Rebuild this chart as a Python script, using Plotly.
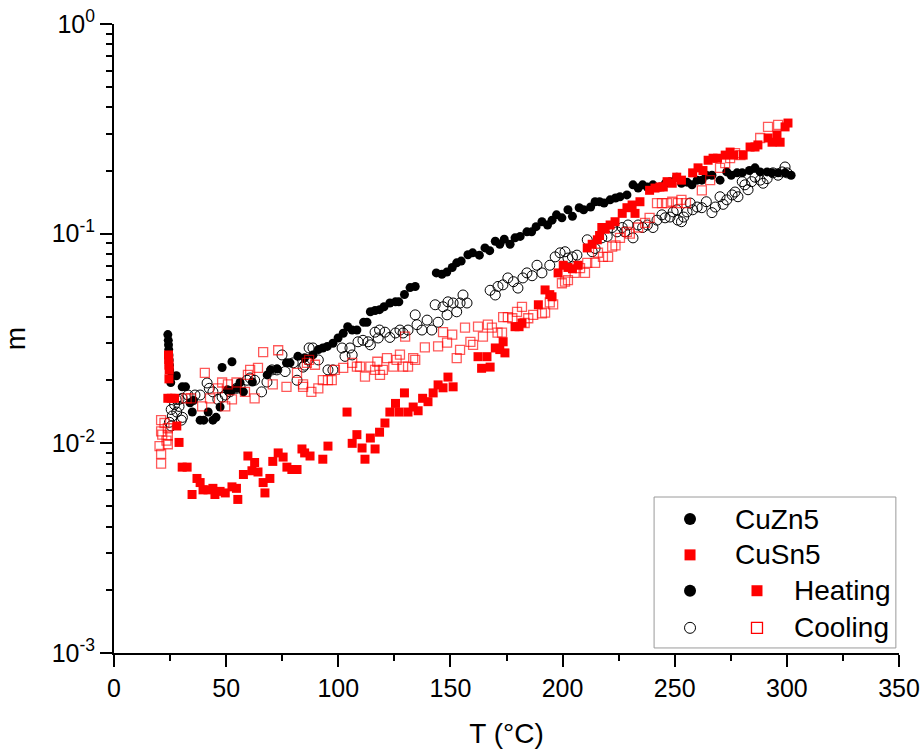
import plotly.graph_objects as go

# ---------------- data (T in °C, m) ----------------
cuzn5_heating = [
    (24.0, 0.033), (24.2, 0.031), (24.3, 0.0295), (24.4, 0.028), (24.5, 0.0264), (24.6, 0.025),
    (24.7, 0.0236), (24.8, 0.0224), (25.8, 0.021), (27.8, 0.021), (25.3, 0.0195), (30.4, 0.0186),
    (31.9, 0.0186), (33.9, 0.0156), (35.4, 0.016), (34.9, 0.0141), (38.4, 0.0129), (40.0, 0.0129),
    (42.0, 0.0141), (44.1, 0.0129), (45.5, 0.0133), (47.3, 0.0149), (48.2, 0.023), (52.6, 0.0245),
    (50.6, 0.018), (52.1, 0.0178), (54.6, 0.0183), (56.2, 0.0195), (57.7, 0.0176), (61.7, 0.0196),
    (68.3, 0.0212), (69.8, 0.0224), (72.8, 0.0226), (76.9, 0.0242), (78.5, 0.0242), (82.0, 0.026),
    (85.0, 0.0256), (88.7, 0.0264), (91.1, 0.028), (93.1, 0.0285), (95.1, 0.029), (97.6, 0.030),
    (99.9, 0.0318), (102.2, 0.0335), (104.2, 0.036), (106.2, 0.0347), (108.3, 0.0347), (111.3, 0.0378),
    (112.8, 0.0378), (114.3, 0.0424), (116.4, 0.043), (118.4, 0.0434), (120.4, 0.0448), (123.0, 0.0467),
    (125.5, 0.0473), (127.0, 0.0473), (129.5, 0.0513), (132.0, 0.0553), (134.3, 0.056), (143.7, 0.065),
    (146.2, 0.064), (148.4, 0.0656), (150.8, 0.069), (152.8, 0.0726), (154.8, 0.074), (157.8, 0.0793),
    (159.9, 0.081), (162.9, 0.079), (165.4, 0.0855), (167.5, 0.083), (170.0, 0.092), (172.0, 0.089),
    (174.0, 0.094), (176.6, 0.089), (178.8, 0.0955), (181.1, 0.097), (184.1, 0.102), (186.2, 0.102),
    (188.2, 0.108), (190.8, 0.114), (193.3, 0.11), (195.3, 0.116), (197.3, 0.123), (199.7, 0.119),
    (202.4, 0.13), (204.4, 0.121), (207.4, 0.133), (209.4, 0.13), (212.5, 0.134), (214.5, 0.142),
    (216.5, 0.142), (218.5, 0.14), (221.2, 0.145), (223.6, 0.148), (225.6, 0.15), (228.7, 0.153),
    (231.4, 0.171), (233.7, 0.165), (235.7, 0.171), (237.8, 0.167), (240.3, 0.171), (243.4, 0.167),
    (245.9, 0.174), (247.9, 0.177), (250.9, 0.186), (253.0, 0.174), (255.5, 0.176), (257.7, 0.171),
    (260.0, 0.18), (262.1, 0.18), (264.1, 0.19), (266.6, 0.19), (270.2, 0.18), (273.2, 0.197),
    (275.2, 0.19), (277.8, 0.195), (280.1, 0.195), (283.3, 0.2), (285.8, 0.206), (288.1, 0.197),
    (291.2, 0.197), (293.4, 0.195), (296.1, 0.195), (299.2, 0.195), (301.9, 0.19),
]

cuzn5_cooling = [
    (25.5, 0.0145), (26.0, 0.0135), (24.7, 0.0126), (25.5, 0.0121), (27.0, 0.0153), (27.7, 0.0162),
    (28.0, 0.0141), (29.0, 0.015), (30.0, 0.0129), (30.5, 0.0133), (29.0, 0.0162), (30.4, 0.0164),
    (33.0, 0.017), (36.1, 0.017), (38.4, 0.017), (41.5, 0.0194), (42.5, 0.0183), (44.1, 0.0176),
    (46.3, 0.0162), (48.2, 0.0166), (49.6, 0.017), (51.6, 0.0176), (54.6, 0.0183), (56.2, 0.0186),
    (59.3, 0.020), (60.7, 0.0205), (62.7, 0.020), (65.8, 0.0176), (68.2, 0.0196), (70.4, 0.0224),
    (72.6, 0.0224), (74.9, 0.0264), (76.3, 0.022), (79.9, 0.0242), (81.6, 0.020), (85.0, 0.0236),
    (84.3, 0.0231), (86.5, 0.025), (88.7, 0.0285), (91.1, 0.025), (87.0, 0.0285), (95.4, 0.0224),
    (97.6, 0.0224), (101.7, 0.0285), (103.0, 0.026), (105.2, 0.0285), (106.2, 0.0264), (108.8, 0.0305),
    (111.0, 0.031), (113.3, 0.0305), (114.3, 0.0295), (116.4, 0.0339), (118.4, 0.0347), (117.8, 0.0318),
    (120.8, 0.0339), (123.0, 0.032), (125.5, 0.0336), (127.5, 0.0347), (128.9, 0.0336), (131.1, 0.0347),
    (134.3, 0.041), (135.1, 0.0368), (137.3, 0.0347), (139.6, 0.0387), (141.7, 0.0347), (143.2, 0.0458),
    (144.5, 0.0378), (146.7, 0.0448), (148.5, 0.041), (148.9, 0.0473), (151.2, 0.0467), (152.8, 0.0424),
    (154.3, 0.0467), (155.6, 0.051), (157.4, 0.0467), (167.7, 0.0537), (170.0, 0.051), (171.2, 0.056),
    (173.4, 0.057), (175.6, 0.0615), (178.1, 0.059), (180.1, 0.055), (182.3, 0.0615), (184.1, 0.065),
    (186.4, 0.063), (188.6, 0.0707), (190.8, 0.065), (194.3, 0.0707), (196.7, 0.0775), (198.9, 0.081),
    (201.1, 0.082), (202.4, 0.0765), (204.4, 0.0775), (206.4, 0.079), (211.0, 0.0935), (213.2, 0.082),
    (214.5, 0.085), (217.5, 0.0955), (219.9, 0.097), (222.1, 0.107), (224.3, 0.102), (226.6, 0.107),
    (227.7, 0.102), (229.2, 0.11), (231.4, 0.0955), (233.7, 0.11), (235.7, 0.107), (237.8, 0.11),
    (240.3, 0.107), (242.1, 0.116), (244.3, 0.123), (245.7, 0.119), (247.9, 0.12), (249.3, 0.127),
    (250.9, 0.13), (251.4, 0.116), (253.0, 0.114), (254.0, 0.12), (255.5, 0.127), (256.9, 0.14),
    (258.0, 0.13), (260.0, 0.134), (262.1, 0.133), (264.1, 0.142), (266.6, 0.126), (268.1, 0.134),
    (270.2, 0.15), (271.6, 0.138), (273.2, 0.145), (275.6, 0.153), (276.9, 0.158), (278.2, 0.15),
    (280.1, 0.177), (281.3, 0.171), (282.7, 0.162), (284.3, 0.177), (285.8, 0.186), (288.1, 0.18),
    (289.4, 0.174), (291.2, 0.183), (293.8, 0.195), (296.1, 0.19), (297.9, 0.197), (299.2, 0.208),
    (300.1, 0.195),
]

cusn5_heating = [
    (24.3, 0.0264), (24.4, 0.025), (24.5, 0.0236), (24.6, 0.0224), (24.5, 0.0203), (24.0, 0.0164),
    (25.5, 0.0164), (27.0, 0.0164), (28.0, 0.0121), (29.0, 0.0101), (30.4, 0.0077), (32.6, 0.0077),
    (34.8, 0.0057), (37.0, 0.0068), (38.4, 0.0065), (39.7, 0.006), (41.9, 0.006), (44.1, 0.0061),
    (45.0, 0.0057), (47.3, 0.0059), (49.6, 0.0058), (52.6, 0.0062), (54.6, 0.0061), (55.2, 0.0054),
    (57.7, 0.0071), (59.7, 0.0087), (61.5, 0.0074), (62.7, 0.0081), (64.2, 0.0073), (66.5, 0.0065),
    (67.3, 0.0058), (69.5, 0.0068), (70.8, 0.0082), (73.2, 0.009), (75.4, 0.0086), (77.1, 0.0077),
    (79.3, 0.0075), (81.6, 0.0075), (83.8, 0.0094), (85.0, 0.009), (87.4, 0.0087), (93.1, 0.0084),
    (95.4, 0.0097), (103.9, 0.0141), (106.2, 0.01), (108.3, 0.011), (110.6, 0.0095), (111.9, 0.0084),
    (114.3, 0.0106), (116.4, 0.0094), (118.4, 0.0113), (120.8, 0.0125), (123.0, 0.0141), (125.5, 0.0155),
    (127.1, 0.0141), (129.5, 0.0174), (131.1, 0.0141), (133.4, 0.0149), (135.6, 0.0143), (137.6, 0.0164),
    (140.0, 0.0158), (142.3, 0.0174), (144.5, 0.019), (146.7, 0.0184), (148.9, 0.0207), (151.2, 0.0186),
    (162.3, 0.0259), (163.9, 0.0228), (166.3, 0.0259), (167.7, 0.0231), (170.0, 0.0285), (172.0, 0.028),
    (173.5, 0.0305), (174.3, 0.027), (178.8, 0.036), (180.6, 0.036), (181.9, 0.0375), (189.2, 0.0458),
    (192.2, 0.0539), (194.3, 0.0512), (195.3, 0.05), (198.0, 0.065), (200.3, 0.0707), (202.4, 0.069),
    (204.4, 0.068), (206.9, 0.0707), (211.0, 0.0855), (213.2, 0.089), (215.5, 0.0935), (216.5, 0.098),
    (217.5, 0.107), (219.0, 0.105), (221.2, 0.11), (223.4, 0.114), (226.6, 0.125), (228.7, 0.133),
    (231.0, 0.137), (232.3, 0.125), (234.5, 0.142), (238.8, 0.161), (241.2, 0.165), (243.4, 0.167),
    (244.9, 0.167), (246.6, 0.177), (248.9, 0.174), (250.9, 0.186), (253.0, 0.18), (258.0, 0.195),
    (260.4, 0.206), (262.6, 0.2), (264.9, 0.224), (267.1, 0.229), (269.1, 0.229), (272.5, 0.237),
    (274.7, 0.245), (276.2, 0.237), (280.5, 0.237), (283.6, 0.259), (285.8, 0.259), (287.1, 0.265),
    (291.6, 0.286), (293.4, 0.273), (295.6, 0.296), (297.0, 0.273), (299.2, 0.323), (300.5, 0.337),
]

cusn5_cooling = [
    (21.0, 0.0129), (21.0, 0.0114), (21.5, 0.011), (20.3, 0.0097), (21.0, 0.0089), (21.0, 0.008),
    (23.4, 0.0103), (24.0, 0.0099), (24.0, 0.0109), (24.0, 0.0118), (22.5, 0.0125), (32.4, 0.0164),
    (34.4, 0.0164), (39.3, 0.015), (40.5, 0.0217), (42.8, 0.0164), (46.3, 0.0183), (48.2, 0.0195),
    (50.8, 0.0191), (49.6, 0.015), (52.6, 0.0162), (54.6, 0.0195), (58.4, 0.0176), (59.7, 0.0212),
    (64.2, 0.0229), (60.7, 0.0224), (66.5, 0.0272), (73.2, 0.0278), (62.7, 0.0164), (70.8, 0.0191),
    (76.9, 0.0186), (81.6, 0.0217), (84.3, 0.0191), (86.0, 0.0242), (87.0, 0.025), (84.3, 0.0186),
    (88.0, 0.0176), (89.6, 0.0237), (91.1, 0.0183), (93.1, 0.020), (95.4, 0.020), (97.1, 0.020),
    (98.5, 0.0224), (102.2, 0.0229), (106.2, 0.0242), (108.3, 0.0232), (109.7, 0.0232), (111.9, 0.0208),
    (114.3, 0.0232), (116.4, 0.0224), (117.4, 0.0245), (118.6, 0.0212), (119.9, 0.0224), (121.7, 0.0255),
    (124.5, 0.0232), (126.0, 0.025), (127.5, 0.0265), (128.9, 0.0232), (131.1, 0.0232), (133.4, 0.0255),
    (134.3, 0.025), (129.8, 0.0323), (138.6, 0.0287), (146.7, 0.0339), (144.5, 0.029), (148.5, 0.0302),
    (150.8, 0.033), (152.8, 0.0255), (154.3, 0.0279), (156.5, 0.0356), (158.9, 0.0305), (160.1, 0.0295),
    (162.3, 0.036), (164.5, 0.0323), (166.7, 0.0368), (168.5, 0.0356), (171.0, 0.0337), (173.0, 0.0337),
    (173.5, 0.040), (175.6, 0.040), (177.6, 0.0395), (179.7, 0.0424), (181.9, 0.0448), (183.1, 0.0375),
    (184.7, 0.0395), (186.9, 0.041), (190.8, 0.0417), (192.2, 0.042), (194.3, 0.047), (195.8, 0.046),
    (199.7, 0.058), (201.1, 0.059), (202.4, 0.060), (205.4, 0.065), (207.8, 0.0685), (211.0, 0.0725),
    (214.5, 0.0725), (210.0, 0.065), (215.8, 0.0811), (218.0, 0.0775), (220.3, 0.0775), (222.1, 0.0867),
    (223.6, 0.088), (225.6, 0.0955), (228.7, 0.102), (230.0, 0.1), (233.7, 0.107), (236.8, 0.1125),
    (238.8, 0.119), (242.1, 0.14), (244.3, 0.14), (246.6, 0.14), (248.9, 0.142), (251.4, 0.14),
    (253.0, 0.145), (255.0, 0.14), (262.1, 0.161), (265.8, 0.18), (270.2, 0.206), (272.5, 0.217),
    (274.7, 0.229), (276.9, 0.242), (279.3, 0.237), (288.1, 0.286), (291.6, 0.323), (296.1, 0.33),
]

x_ticks = [0, 50, 100, 150, 200, 250, 300, 350]
y_ticks = [0.001, 0.01, 0.1, 1]
y_ticklabels = ["10<sup>-3</sup>", "10<sup>-2</sup>", "10<sup>-1</sup>", "10<sup>0</sup>"]
y_minor = [k * 10.0 ** e for e in (-3, -2, -1) for k in range(2, 10)]

legend_rows = ["CuZn5", "CuSn5", "Heating", "Cooling"]

FONT = "Liberation Sans, Arial, sans-serif"
RED = "#ff0000"
RED_OPEN = "rgba(255,0,0,0.65)"

# marker styles
STY = {
    "zn_heat": dict(symbol="circle", size=9, color="black", line=dict(width=0)),
    "zn_cool": dict(symbol="circle-open", size=10, color="black", line=dict(width=1)),
    "sn_heat": dict(symbol="square", size=9, color=RED, line=dict(width=0)),
    "sn_cool": dict(symbol="square-open", size=9, color=RED_OPEN, line=dict(width=1.3)),
}


def unzip(pairs):
    return [p[0] for p in pairs], [p[1] for p in pairs]


fig = go.Figure()
for pairs, key in [(cuzn5_heating, "zn_heat"), (cuzn5_cooling, "zn_cool"),
                   (cusn5_cooling, "sn_cool"), (cusn5_heating, "sn_heat")]:
    t, m = unzip(pairs)
    fig.add_trace(go.Scatter(x=t, y=m, mode="markers", marker=STY[key],
                             showlegend=False, hoverinfo="skip"))

# ---------------- custom legend (overlay axes in box coordinates) ----------------
row_y = [0.213, 0.156, 0.099, 0.040]  # paper y of legend rows
col1_x, col2_x = 0.7338, 0.8191
legend_keys = [
    (col1_x, row_y[0], dict(symbol="circle", size=12, color="black")),
    (col1_x, row_y[1], dict(symbol="square", size=11, color=RED)),
    (col1_x, row_y[2], dict(symbol="circle", size=12, color="black")),
    (col2_x, row_y[2], dict(symbol="square", size=11, color=RED)),
    (col1_x, row_y[3], dict(symbol="circle-open", size=11, color="black", line=dict(width=1))),
    (col2_x, row_y[3], dict(symbol="square-open", size=11, color=RED, line=dict(width=1.3))),
]
for lx, ly, mk in legend_keys:
    fig.add_trace(go.Scatter(x=[lx], y=[ly], xaxis="x2", yaxis="y2", mode="markers",
                             marker=mk, showlegend=False, hoverinfo="skip"))

text_pos = [(0.7885, row_y[0]), (0.7885, row_y[1]), (0.8637, row_y[2]), (0.8637, row_y[3])]
for (tx, ty), label in zip(text_pos, legend_rows):
    fig.add_annotation(x=tx, y=ty, xref="paper", yref="paper", text=label, showarrow=False,
                       xanchor="left", yanchor="middle", font=dict(family=FONT, size=28, color="black"))

fig.add_shape(type="rect", xref="paper", yref="paper", x0=0.688, x1=0.996, y0=0.008, y1=0.248,
              line=dict(color="#9a9a9a", width=1), fillcolor="rgba(0,0,0,0)", layer="below")

axis_common = dict(showgrid=False, zeroline=False, showline=True, linecolor="black", linewidth=2,
                   ticks="outside", ticklen=12, tickwidth=2, tickcolor="black", automargin=False,
                   tickfont=dict(family=FONT, size=25, color="black"))

fig.update_layout(
    width=921, height=753,
    margin=dict(l=114, r=22, t=24, b=100),
    paper_bgcolor="white", plot_bgcolor="white",
    font=dict(family=FONT, color="black"),
    xaxis=dict(range=[0, 350], tickvals=x_ticks, **axis_common,
               minor=dict(ticks="outside", ticklen=6, tickwidth=2, tickcolor="black", dtick=25),
               title=dict(text="T (°C)", font=dict(family=FONT, size=28), standoff=22)),
    yaxis=dict(type="log", range=[-3, 0], tickvals=y_ticks, ticktext=y_ticklabels, **axis_common,
               minor=dict(ticks="outside", ticklen=6, tickwidth=2, tickcolor="black", tickvals=y_minor),
               title=dict(text="m", font=dict(family=FONT, size=28), standoff=28)),
    xaxis2=dict(domain=[0, 1], range=[0, 1], visible=False, overlaying="x", anchor="y2"),
    yaxis2=dict(domain=[0, 1], range=[0, 1], visible=False, overlaying="y", anchor="x2"),
)

fig.write_html("out.html")
